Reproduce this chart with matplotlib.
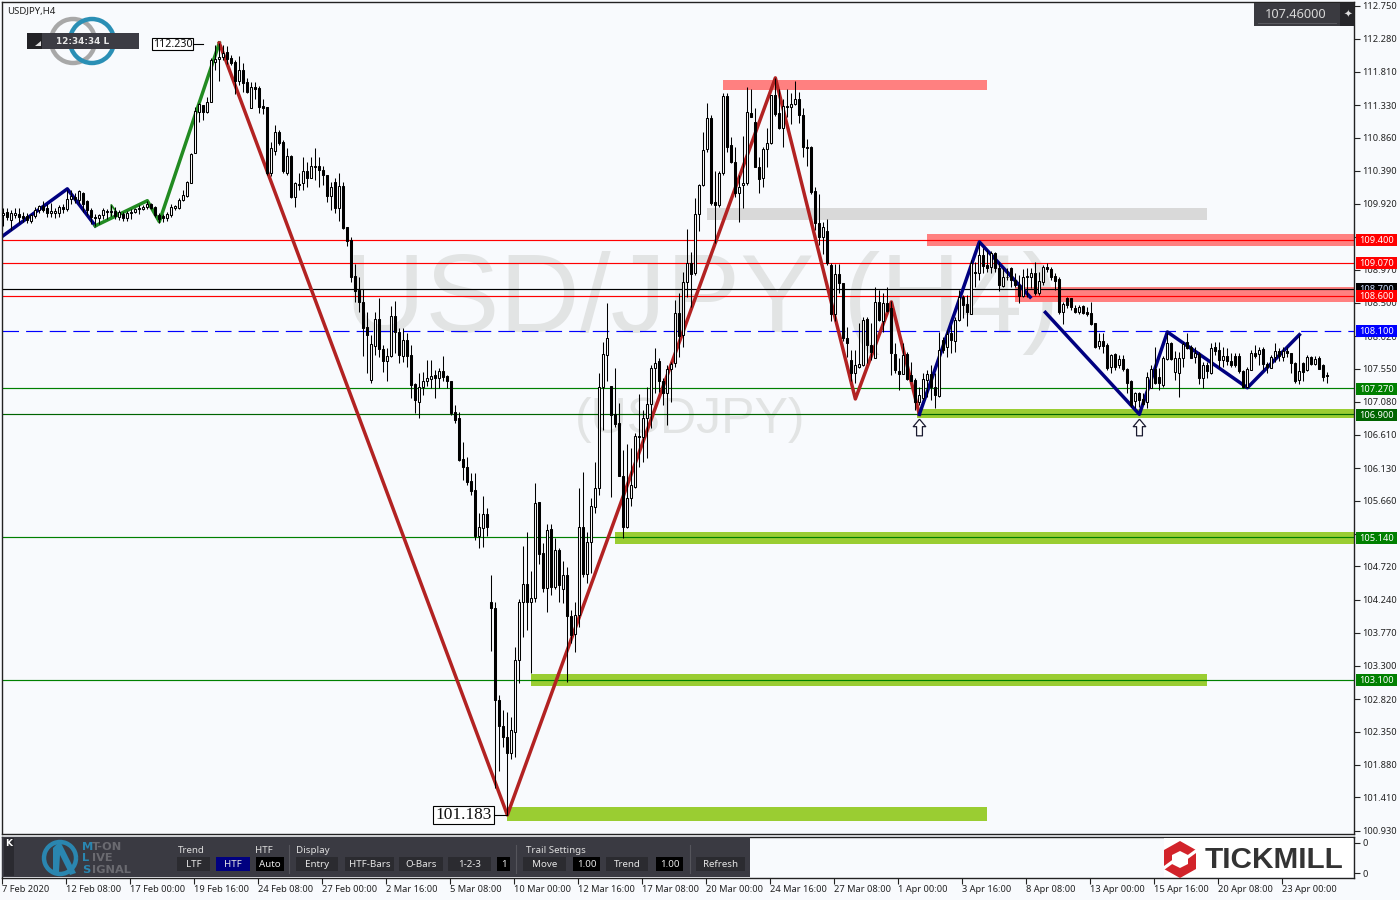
import matplotlib
matplotlib.use('Agg')
import matplotlib.pyplot as plt
from matplotlib.patches import Rectangle, Arc, Polygon
from matplotlib.path import Path

# candle data
highs = [
    109.86,109.86,109.83,109.86,109.86,109.80,109.78,109.77,109.87,109.90,
    109.96,109.91,109.93,109.86,109.90,109.91,110.11,110.11,110.07,110.11,
    110.09,109.97,109.86,109.77,109.77,109.86,109.84,109.90,109.87,109.83,
    109.80,109.81,109.84,109.86,109.90,109.90,109.96,109.93,109.89,109.78,
    109.77,109.80,109.91,109.90,110.00,110.11,110.24,110.64,111.30,111.36,
    111.33,111.45,112.01,112.19,112.22,112.19,112.17,112.05,111.98,112.04,
    111.94,111.72,111.66,111.66,111.61,111.42,111.30,110.80,111.05,110.97,
    110.83,110.72,110.62,110.23,110.36,110.58,110.51,110.58,110.71,110.59,
    110.46,110.33,110.23,110.29,110.35,110.23,109.58,109.44,109.06,108.87,
    108.70,108.37,108.04,108.37,108.57,107.90,107.85,108.45,108.53,108.14,
    108.14,108.07,107.90,107.35,107.49,107.51,107.68,107.68,107.53,107.56,
    107.74,107.46,107.38,107.04,106.94,106.51,106.29,106.06,106.06,105.49,
    105.73,105.56,104.60,104.21,102.88,102.66,102.63,102.56,103.56,104.25,
    105.02,105.22,104.66,105.92,105.65,105.06,105.33,105.33,105.13,104.99,
    104.80,104.71,104.10,104.21,105.85,106.08,105.22,105.70,106.22,107.49,
    107.94,108.49,107.30,107.56,107.06,106.39,106.48,106.42,106.63,107.19,
    106.96,107.29,107.60,107.85,107.71,107.42,107.60,107.65,108.54,108.64,
    108.94,109.55,109.22,110.00,110.20,110.95,111.36,111.19,110.38,110.38,
    111.51,111.51,110.88,110.73,110.33,110.89,111.59,111.56,111.29,110.58,
    110.73,111.00,111.48,111.72,111.56,111.42,111.56,111.51,111.68,111.52,
    111.29,110.85,110.75,110.16,110.06,109.66,109.70,109.07,109.06,109.06,
    108.78,108.15,107.82,107.82,108.21,108.30,108.30,108.21,108.73,108.68,
    108.64,108.73,108.53,107.92,107.70,107.92,107.79,107.65,107.42,107.29,
    107.49,107.53,107.60,107.49,108.08,108.01,108.11,108.18,108.30,108.68,
    108.61,108.61,109.11,109.08,109.37,109.28,109.25,109.24,109.22,109.08,
    108.99,108.99,109.01,108.93,108.90,108.98,108.99,108.99,109.08,108.94,
    109.04,109.07,109.01,108.93,108.87,108.51,108.58,108.57,108.47,108.47,
    108.47,108.44,108.51,108.21,108.07,108.07,107.92,107.76,107.78,107.75,
    107.75,107.56,107.39,107.22,107.22,107.21,107.51,107.61,107.87,107.56,
    107.74,108.07,107.94,107.81,107.79,107.94,108.07,107.90,107.87,107.79,
    107.65,107.65,107.92,107.94,107.94,107.87,107.85,107.78,107.78,107.78,
    107.53,107.58,107.82,107.90,107.87,107.87,107.65,107.75,107.92,107.85,
    107.87,107.87,107.78,107.65,108.04,107.65,107.75,107.74,107.74,107.74,107.62,107.51]
lows = [
    109.60,109.68,109.54,109.71,109.64,109.66,109.64,109.64,109.71,109.78,
    109.80,109.73,109.73,109.71,109.73,109.78,109.81,109.91,109.93,109.91,
    109.80,109.76,109.63,109.60,109.63,109.70,109.70,109.74,109.70,109.68,
    109.67,109.67,109.70,109.78,109.77,109.83,109.84,109.84,109.73,109.64,
    109.66,109.67,109.73,109.83,109.84,109.96,110.02,110.22,110.64,111.09,
    111.12,111.22,111.37,111.83,111.68,111.98,111.92,111.91,111.49,111.62,
    111.52,111.51,111.29,111.42,111.22,111.20,110.33,110.32,110.62,110.76,
    110.36,110.33,110.00,109.87,110.11,110.11,110.16,110.29,110.26,110.16,
    110.19,109.94,109.83,109.78,109.67,109.55,109.31,108.80,108.51,108.37,
    107.74,107.49,107.35,107.75,107.72,107.51,107.38,107.72,107.78,107.64,
    107.65,107.58,107.13,106.92,106.84,107.18,107.31,107.28,107.13,107.28,
    107.37,107.28,106.89,106.78,106.23,105.96,105.89,105.75,105.10,104.99,
    105.00,105.15,103.51,101.55,101.79,102.13,101.16,101.96,101.99,103.05,
    103.71,103.81,103.20,104.21,104.76,104.36,104.07,104.31,104.40,104.21,
    104.20,103.07,103.62,103.50,103.85,104.57,104.48,104.63,105.49,105.75,
    106.67,107.38,105.72,106.72,106.01,105.13,105.27,105.59,105.85,106.15,
    106.22,106.28,106.71,107.21,107.22,107.04,106.74,107.07,107.58,107.72,
    107.87,108.58,108.44,108.90,109.53,110.17,110.66,109.90,109.35,109.87,
    110.33,110.66,110.50,110.02,109.66,109.86,110.19,111.16,110.45,110.07,
    110.16,110.45,110.77,111.18,110.99,110.73,111.16,111.06,111.33,111.07,
    110.59,110.46,110.06,109.54,109.33,109.20,109.04,108.24,108.23,108.64,
    107.95,107.72,107.37,107.35,107.56,107.59,107.64,107.68,107.70,108.23,
    108.08,108.37,107.46,107.49,107.25,107.48,107.39,107.37,106.96,107.04,
    107.10,107.15,107.10,106.99,107.15,107.78,107.72,107.78,107.79,108.23,
    108.28,108.17,108.33,108.73,108.82,108.92,108.94,108.92,108.94,108.66,
    108.73,108.82,108.73,108.73,108.50,108.58,108.58,108.71,108.61,108.61,
    108.75,108.94,108.82,108.68,108.33,108.20,108.43,108.39,108.35,108.33,
    108.33,108.31,108.18,107.85,107.84,107.78,107.53,107.49,107.53,107.56,
    107.52,107.21,107.01,106.99,107.01,107.04,106.99,107.27,107.33,107.25,
    107.29,107.68,107.68,107.39,107.15,107.58,107.84,107.71,107.64,107.34,
    107.28,107.42,107.48,107.75,107.56,107.58,107.61,107.58,107.58,107.49,
    107.28,107.29,107.53,107.71,107.61,107.53,107.49,107.56,107.65,107.67,
    107.67,107.72,107.49,107.35,107.34,107.37,107.52,107.61,107.61,107.55,107.38,107.35]
opens = [
    109.76,109.80,109.68,109.76,109.77,109.74,109.74,109.67,109.74,109.83,
    109.89,109.86,109.78,109.78,109.78,109.87,109.84,109.99,110.02,109.97,
    110.07,109.96,109.83,109.73,109.71,109.76,109.80,109.80,109.81,109.73,
    109.77,109.71,109.78,109.80,109.86,109.84,109.87,109.91,109.87,109.76,
    109.74,109.71,109.76,109.86,109.86,109.97,110.03,110.22,110.64,111.23,
    111.33,111.23,111.37,111.95,111.99,112.02,112.09,112.01,111.95,111.68,
    111.83,111.66,111.29,111.59,111.58,111.32,111.30,110.36,110.67,110.95,
    110.80,110.36,110.60,110.02,110.20,110.22,110.38,110.29,110.46,110.46,
    110.40,110.33,110.03,110.23,109.86,110.17,109.58,109.40,108.88,108.68,
    108.51,108.15,107.39,107.88,108.27,107.84,107.67,107.74,108.31,108.08,
    107.74,107.97,107.75,107.34,107.07,107.29,107.38,107.41,107.46,107.42,
    107.52,107.45,107.38,106.94,106.84,106.26,106.15,105.95,105.82,105.16,
    105.27,105.47,104.21,104.13,102.81,102.43,102.28,102.05,102.35,103.38,
    104.21,104.47,104.21,104.27,105.65,104.91,104.41,105.26,104.43,104.96,
    104.40,104.60,104.01,103.75,104.03,105.29,104.61,105.07,105.57,105.85,
    107.29,107.75,107.31,106.91,106.78,106.02,105.29,105.70,105.86,106.59,
    106.58,106.84,107.05,107.56,107.67,107.37,107.21,107.55,107.64,108.35,
    108.04,108.80,109.07,108.93,109.77,110.19,110.70,111.15,109.94,109.90,
    110.36,111.46,110.76,110.52,110.07,110.19,110.22,111.22,111.09,110.45,
    110.29,110.70,110.79,111.48,111.22,111.00,111.32,111.30,111.35,111.42,
    111.19,110.73,110.73,110.10,109.64,109.44,109.53,109.04,108.33,108.91,
    108.78,108.00,107.68,107.49,107.58,107.61,108.27,107.90,107.70,108.51,
    108.24,108.50,108.43,107.77,107.52,107.48,107.77,107.47,107.39,107.07,
    107.14,107.39,107.48,107.29,107.16,107.97,107.87,108.07,107.95,108.25,
    108.58,108.48,108.34,108.94,108.93,109.18,109.04,109.01,109.21,108.99,
    108.74,108.87,108.99,108.82,108.75,108.60,108.87,108.87,108.93,108.64,
    108.80,109.01,108.98,108.88,108.84,108.37,108.56,108.56,108.43,108.37,
    108.45,108.37,108.35,108.21,107.88,107.95,107.90,107.58,107.77,107.60,
    107.69,107.55,107.37,107.09,107.21,107.12,107.08,107.28,107.55,107.43,
    107.32,107.69,107.92,107.51,107.49,107.71,107.94,107.87,107.72,107.77,
    107.42,107.60,107.49,107.87,107.82,107.68,107.74,107.67,107.74,107.74,
    107.52,107.29,107.53,107.78,107.77,107.84,107.62,107.56,107.72,107.81,
    107.72,107.80,107.78,107.64,107.39,107.64,107.53,107.72,107.62,107.71,107.61,107.46]
closes = [
    109.78,109.73,109.78,109.78,109.73,109.71,109.68,109.76,109.83,109.89,
    109.83,109.78,109.81,109.81,109.87,109.84,109.99,110.03,109.99,110.10,
    109.91,109.83,109.73,109.71,109.76,109.83,109.81,109.81,109.74,109.80,
    109.71,109.78,109.80,109.84,109.84,109.87,109.91,109.86,109.76,109.70,
    109.71,109.77,109.87,109.89,109.97,110.04,110.23,110.63,111.25,111.35,
    111.23,111.37,111.97,111.99,112.02,112.08,111.99,111.94,111.68,111.83,
    111.65,111.52,111.59,111.56,111.30,111.29,110.36,110.72,110.95,110.79,
    110.38,110.60,110.02,110.22,110.19,110.38,110.29,110.46,110.45,110.40,
    110.33,110.03,110.16,109.86,110.17,109.57,109.39,108.87,108.67,108.51,
    108.14,108.04,107.91,108.27,107.84,107.67,107.74,108.31,108.08,107.75,
    107.97,107.74,107.32,107.10,107.29,107.38,107.42,107.45,107.42,107.52,
    107.44,107.37,106.92,106.82,106.25,106.15,105.93,105.80,105.16,105.29,
    105.47,105.29,104.13,102.81,102.43,102.28,102.05,102.38,103.38,104.21,
    104.47,104.21,104.27,105.63,104.90,104.41,105.24,104.43,104.96,104.46,
    104.60,104.01,103.74,104.03,105.29,104.61,105.07,105.58,105.85,107.29,
    107.76,107.99,106.89,106.76,106.02,105.29,105.70,105.89,106.59,106.58,
    106.84,107.05,107.56,107.64,107.37,107.21,107.55,107.62,108.35,108.02,
    108.80,109.07,108.91,109.77,110.19,110.69,111.15,109.93,109.90,110.36,
    111.46,110.73,110.52,110.07,110.16,110.22,111.23,111.16,110.45,110.27,
    110.70,110.79,111.48,111.20,111.00,111.32,111.30,111.35,111.42,111.19,
    110.73,110.72,110.09,109.64,109.44,109.58,109.07,108.33,108.91,108.78,
    108.00,107.92,107.49,107.60,107.62,108.25,107.90,107.79,108.51,108.25,
    108.50,108.38,107.78,107.53,107.48,107.75,107.41,107.38,107.07,107.17,
    107.41,107.48,107.29,107.18,107.82,107.82,108.05,107.97,108.25,108.58,
    108.47,108.37,109.07,108.93,109.18,109.03,108.99,109.21,108.99,108.75,
    108.87,108.86,108.82,108.75,108.60,108.87,108.88,108.93,108.64,108.81,
    109.01,108.98,108.87,108.81,108.37,108.48,108.47,108.44,108.37,108.44,
    108.35,108.34,108.20,107.87,107.95,107.88,107.56,107.75,107.58,107.69,
    107.55,107.35,107.04,107.21,107.10,107.05,107.43,107.55,107.35,107.35,
    107.71,107.92,107.69,107.71,107.71,107.91,107.85,107.71,107.78,107.42,
    107.60,107.52,107.85,107.81,107.68,107.74,107.67,107.61,107.60,107.52,
    107.29,107.55,107.78,107.74,107.82,107.62,107.58,107.72,107.81,107.74,
    107.80,107.78,107.64,107.37,107.52,107.51,107.72,107.62,107.69,107.55,107.44,107.45]

# zigzag legs (bar number, price)
ltf_blue_x = [0, 16, 23]
ltf_blue_y = [109.46, 110.13, 109.60]
green_x = [23, 36, 39, 54]
green_y = [109.60, 109.96, 109.66, 112.22]
green_spike_x = [27, 27, 29]
green_spike_y = [109.71, 109.90, 109.74]
red_x = [54, 126, 193, 213, 222, 229]
red_y = [112.22, 101.16, 111.72, 107.12, 108.51, 106.90]
blue_a_x = [229, 244, 256.7]
blue_a_y = [106.90, 109.37, 108.58]
blue_b_x = [260.5, 284, 291, 311, 324]
blue_b_y = [108.36, 106.90, 108.08, 107.28, 108.04]

# zones: first bar, last bar, lower price, upper price, colour
zone_start = [180, 176, 231, 253, 228.5, 153, 132, 126]
zone_end = [246, 301, 338, 338, 338, 338, 301, 246]
zone_low = [111.55, 109.68, 109.31, 108.51, 106.85, 105.04, 103.01, 101.08]
zone_high = [111.69, 109.86, 109.49, 108.72, 106.98, 105.21, 103.18, 101.28]
zone_colors = ['#ff8080', '#d9d9d9', '#ff8080', '#ff8080', '#9acd32', '#9acd32', '#9acd32', '#9acd32']

level_prices = [109.40, 109.07, 108.70, 108.60, 108.10, 107.27, 106.90, 105.14, 103.10]
level_colors = ['#ff0000', '#ff0000', '#000000', '#ff0000', '#0000ff', '#008000', '#006400', '#008000', '#008000']
level_tags = ['109.400', '109.070', '108.700', '108.600', '108.100', '107.270', '106.900', '105.140', '103.100']

arrow_bars = [229, 284]
arrow_price = [106.72, 106.72]

price_ticks = [112.750, 112.280, 111.810, 111.330, 110.860, 110.390, 109.920, 109.440, 108.970,
               108.500, 108.020, 107.550, 107.080, 106.610, 106.130, 105.660, 105.190, 104.720,
               104.240, 103.770, 103.300, 102.820, 102.350, 101.880, 101.410, 100.930]
# these two sit completely behind a coloured tag
hidden_ticks = [109.440, 105.190]
time_labels = ['7 Feb 2020', '12 Feb 08:00', '17 Feb 00:00', '19 Feb 16:00', '24 Feb 08:00',
               '27 Feb 00:00', '2 Mar 16:00', '5 Mar 08:00', '10 Mar 00:00', '12 Mar 16:00',
               '17 Mar 08:00', '20 Mar 00:00', '24 Mar 16:00', '27 Mar 08:00', '1 Apr 00:00',
               '3 Apr 16:00', '8 Apr 08:00', '13 Apr 00:00', '15 Apr 16:00', '20 Apr 08:00',
               '23 Apr 00:00']

BG = '#f8fafd'
PANEL = '#3a3a42'
UI_FONT = 'Noto Sans'
AXIS_SIZE = 6.7

plt.rcParams['font.family'] = UI_FONT
fig = plt.figure(figsize=(14, 9), dpi=100, facecolor=BG)


def box(left, top, right, bottom):
    # pixel box -> figure rect
    return [left / 1400, 1 - bottom / 900, (right - left) / 1400, (bottom - top) / 900]


ax = fig.add_axes(box(2, 2, 1354, 834), facecolor=BG)
ax.set_xlim(-0.325, 337.65)
ax.set_ylim(100.887, 112.807)

# watermark
ax.text(85.5, 108.50, 'USD/JPY (H4)', fontsize=80, color='#e2e4e4', family='Liberation Sans',
        ha='left', va='center', zorder=0)
ax.text(143, 106.82, '(USDJPY)', fontsize=36, color='#e2e4e4', family='Liberation Sans',
        ha='left', va='center', zorder=0)

for s, e, lo, hi, col in zip(zone_start, zone_end, zone_low, zone_high, zone_colors):
    ax.add_patch(Rectangle((s, lo), e - s, hi - lo, facecolor=col, edgecolor='none', zorder=1))

for p, col in zip(level_prices, level_colors):
    if p == 108.10:
        ax.axhline(p, color=col, lw=0.85, dashes=(14, 6), zorder=1.5)
    else:
        ax.axhline(p, color=col, lw=0.85, zorder=1.5)

ax.plot(ltf_blue_x, ltf_blue_y, color='#000080', lw=2.5, zorder=2)
ax.plot(green_x, green_y, color='#228b22', lw=2.5, zorder=2)
ax.plot(green_spike_x, green_spike_y, color='#228b22', lw=1.3, zorder=2)
ax.plot(red_x, red_y, color='#b22222', lw=2.5, zorder=2)
ax.plot(blue_a_x, blue_a_y, color='#000080', lw=2.5, zorder=2)
ax.plot(blue_b_x, blue_b_y, color='#000080', lw=2.5, zorder=2)

# candles
bars = list(range(len(closes)))
ax.vlines(bars, lows, highs, color='black', lw=0.75, zorder=3)
bottoms = [min(o, c) for o, c in zip(opens, closes)]
heights = [abs(c - o) for o, c in zip(opens, closes)]
faces = ['white' if c >= o else 'black' for o, c in zip(opens, closes)]
ax.bar(bars, heights, bottom=bottoms, width=0.5, color=faces, edgecolor='black', linewidth=0.75, zorder=4)

# rebound arrows
arrow_marker = Path([(0, 1), (0.75, 0.1), (0.35, 0.1), (0.35, -1), (-0.35, -1), (-0.35, 0.1), (-0.75, 0.1), (0, 1)])
ax.plot(arrow_bars, arrow_price, ls='none', marker=arrow_marker, markersize=12, mfc='white',
        mec='#1a1a30', mew=0.9, zorder=5)

ax.yaxis.tick_right()
ax.set_yticks(price_ticks)
ax.set_yticklabels(['' if t in hidden_ticks else f'{t:.3f}' for t in price_ticks])
ax.tick_params(axis='y', length=4, width=0.8, pad=2, labelsize=AXIS_SIZE, colors='#222222')
ax.set_xticks([])
for sp in ax.spines.values():
    sp.set_linewidth(1.0)
    sp.set_color('#222222')

# lower (empty) indicator window, carries the time axis
sub = fig.add_axes(box(2, 837, 1354, 878), facecolor=BG)
sub.set_xlim(-0.325, 337.65)
sub.set_ylim(0, 1)
sub.yaxis.tick_right()
sub.set_yticks([0.12, 0.86])
sub.set_yticklabels(['0', '0'])
sub.tick_params(axis='y', length=4, width=0.8, pad=2, labelsize=AXIS_SIZE, colors='#222222')
sub.set_xticks([16 * k - 0.3 for k in range(len(time_labels))])
sub.set_xticklabels(time_labels, ha='left')
sub.tick_params(axis='x', length=4, width=0.8, pad=1, labelsize=AXIS_SIZE, colors='#222222')
for sp in sub.spines.values():
    sp.set_linewidth(1.0)
    sp.set_color('#222222')

# everything that is screen furniture goes on a pixel overlay
ui = fig.add_axes([0, 0, 1, 1], facecolor='none', zorder=10)
ui.set_xlim(0, 1400)
ui.set_ylim(900, 0)
ui.axis('off')


def rect(x0, y0, x1, y1, col, z=1):
    ui.add_patch(Rectangle((x0, y0), x1 - x0, y1 - y0, facecolor=col, edgecolor='none', zorder=z))


def label(x, y, s, col='#dddddd', size=7.0, ha='center', z=5, **kw):
    ui.text(x, y + 1.2, s, color=col, fontsize=size, ha=ha, va='center', zorder=z, **kw)


label(7, 10, 'USDJPY,H4', col='#222222', size=6.9, ha='left')

# clock logo
ui.add_patch(Arc((73, 41), 44, 44, theta1=0, theta2=360, color='#a8a8a8', lw=3.2, zorder=1))
ui.add_patch(Arc((92, 41), 44, 44, theta1=0, theta2=360, color='#2a8fb5', lw=3.2, zorder=2))
rect(27, 33, 139, 49, '#3c3c44', 3)
rect(27, 33, 42, 49, '#222226', 3)
ui.add_patch(Polygon([(35, 46), (41, 46), (41, 41)], facecolor='#dddddd', edgecolor='none', zorder=4))
label(83, 40, '12:34:34 L', col='#e8e8e8', size=6.4, family='DejaVu Sans', fontweight='bold')

# high and low labels
ui.add_patch(Rectangle((152, 38), 41, 12, facecolor='white', edgecolor='black', lw=0.8, zorder=3))
label(172.5, 43, '112.230', col='#111111', size=7.7)
ui.plot([193, 203], [44, 44], color='black', lw=0.8, zorder=3)
ui.add_patch(Rectangle((433, 806), 61, 18, facecolor='white', edgecolor='black', lw=0.8, zorder=3))
label(463.5, 814, '101.183', col='#111111', size=12.5, family='Liberation Serif')
ui.plot([494, 507], [815, 815], color='black', lw=0.8, zorder=3)

# live price box
rect(1254, 3, 1340, 26, '#3a3a40')
rect(1340, 3, 1354, 26, '#26262a')
ui.plot([1258, 1336], [22.5, 22.5], color='#5a5a60', lw=0.7, zorder=2)
label(1296, 13.5, '107.46000', col='#d8d8d8', size=9.2)
label(1348, 13.5, '✦', col='#e0e0e0', size=7.5, family='DejaVu Sans')

# coloured tags on the price scale
tag_centre = [240, 263, 288.5, 296, 330.5, 388.5, 415, 538, 680]
for yc, col, s in zip(tag_centre, level_colors, level_tags):
    rect(1356, yc - 6, 1397, yc + 6, col, 3)
    label(1376.5, yc - 0.5, s, col='white' if col != '#000000' else '#ccddff', size=AXIS_SIZE, z=3.5)
# the 108.600 tag sits on top of the 108.700 one
rect(1356, 290, 1397, 302, '#ff0000', 4)
label(1376.5, 295.5, '108.600', col='white', size=AXIS_SIZE, z=6)

# toolbar
rect(2, 837, 750, 877, PANEL)
rect(4, 838, 14, 876, '#2a2a30', 2)
label(8.5, 842, 'K', col='white', size=6.5, family='DejaVu Sans', fontweight='bold')
ui.add_patch(Arc((60, 858), 32, 32, theta1=0, theta2=360, color='#2a86b0', lw=3.2, zorder=2))
ui.add_patch(Polygon([(53, 872), (53, 848), (60, 841), (76, 873), (70, 875), (60, 855), (59, 872)],
                     facecolor='#2a86b0', edgecolor='none', zorder=2))
logo_lines = [(846, 'M', 'T-ON'), (857, 'L', 'IVE'), (869, 'S', 'IGNAL')]
for yy, first, rest in logo_lines:
    label(82, yy, first, col='#2a86b0', size=8.2, ha='left', family='DejaVu Sans', fontweight='bold')
    label(92, yy, rest, col='#6a6a70', size=8.2, ha='left', family='DejaVu Sans', fontweight='bold')

label(191, 849, 'Trend')
label(264, 849, 'HTF')
label(313, 849, 'Display')
label(556, 849, 'Trail Settings')
for sx in [289, 516, 690]:
    ui.plot([sx, sx], [845, 873], color='#55555c', lw=0.8, zorder=2)

button_edges = [(177, 210), (216, 250), (256, 284), (296, 338), (345, 394), (399, 443), (448, 491),
                (497, 510), (523, 566), (573, 600), (606, 648), (656, 683), (696, 745)]
button_names = ['LTF', 'HTF', 'Auto', 'Entry', 'HTF-Bars', 'O-Bars', '1-2-3', '1', 'Move', '1.00',
                'Trend', '1.00', 'Refresh']
button_colors = ['#2b2b30', '#000080', '#000000', '#2b2b30', '#2b2b30', '#2b2b30', '#2b2b30',
                 '#000000', '#2b2b30', '#000000', '#2b2b30', '#000000', '#2b2b30']
for (x0, x1), name, col in zip(button_edges, button_names, button_colors):
    rect(x0, 857, x1, 871, col, 2)
    label((x0 + x1) / 2, 863.5, name, col='#e6e6e6')

# Tickmill logo
rect(1164, 838, 1353, 877, 'white')
ui.add_patch(Polygon([(1180, 841), (1196, 850), (1196, 869), (1180, 878), (1164, 869), (1164, 850)],
                     facecolor='#d2232a', edgecolor='none', zorder=2))
ui.add_patch(Polygon([(1180, 851), (1188, 855), (1188, 864), (1180, 868), (1172, 864), (1172, 855)],
                     facecolor='white', edgecolor='none', zorder=3))
ui.add_patch(Polygon([(1164, 866), (1175, 858), (1175, 862), (1164, 870)], facecolor='white', edgecolor='none', zorder=3))
ui.add_patch(Polygon([(1196, 853), (1185, 861), (1185, 857), (1196, 849)], facecolor='white', edgecolor='none', zorder=3))
label(1205, 858.5, 'TICKMILL', col='#333333', size=21.4, ha='left', fontweight='bold', family='Liberation Sans')

fig.savefig('out.png', dpi=100, facecolor=BG)
